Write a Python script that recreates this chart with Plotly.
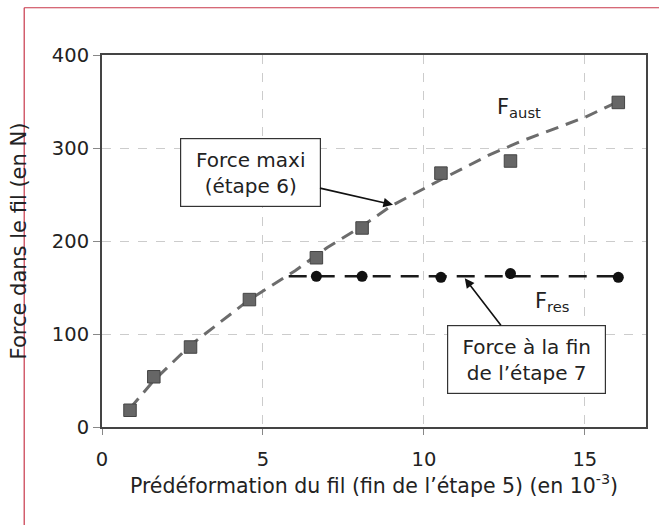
import plotly.graph_objects as go

# --- data ---
pre_def = [0.87, 1.61, 2.75, 4.58, 6.66, 8.08, 10.53, 12.69, 16.04]
f_aust = [18, 54, 86, 137, 182, 214, 273, 286, 349]

pre_def_res = [6.66, 8.08, 10.53, 12.69, 16.04]
f_res = [162, 162, 161, 165, 161]

# trend curves as drawn in the reference
aust_trend_x = [0.87, 1.61, 2.75, 4.58, 6.0, 7.0, 8.08, 9.0, 10.53, 12.0, 13.0, 14.0, 15.0, 16.04]
aust_trend_y = [20, 50, 88, 137, 168, 193, 216, 238, 266, 292, 307, 320, 333, 350]
res_trend_x = [5.8, 16.04]
res_trend_y = [162, 162]

x_ticks = [0, 5, 10, 15]
y_ticks = [0, 100, 200, 300, 400]

FONT = "DejaVu Sans, Verdana, sans-serif"
TXT = "#222222"

fig = go.Figure()
fig.add_trace(go.Scatter(x=aust_trend_x, y=aust_trend_y, mode="lines",
                         line=dict(color="#6c6c6c", width=3, dash="13px,8px"),
                         showlegend=False, hoverinfo="skip"))
fig.add_trace(go.Scatter(x=res_trend_x, y=res_trend_y, mode="lines",
                         line=dict(color="#1a1a1a", width=2.5, dash="18px,10px"),
                         showlegend=False, hoverinfo="skip"))
fig.add_trace(go.Scatter(x=pre_def, y=f_aust, mode="markers",
                         marker=dict(symbol="square", size=12.5, color="#666666",
                                     line=dict(color="#444444", width=1)),
                         showlegend=False))
fig.add_trace(go.Scatter(x=pre_def_res, y=f_res, mode="markers",
                         marker=dict(symbol="circle", size=11, color="#111111"),
                         showlegend=False))

ann = []
ann.append(dict(x=12.94, y=343, xref="x", yref="y", showarrow=False,
                text="F<sub>aust</sub>", font=dict(family=FONT, size=21, color=TXT)))
ann.append(dict(x=14.0, y=134, xref="x", yref="y", showarrow=False,
                text="F<sub>res</sub>", font=dict(family=FONT, size=21, color=TXT)))
# boxed labels with their arrows (box centred at ax/ay, arrow tip at x/y)
ann.append(dict(x=9.04, y=239, ax=4.60, ay=274, xref="x", yref="y", axref="x", ayref="y",
                showarrow=True, arrowhead=2, arrowsize=1.2, arrowwidth=1.6, arrowcolor="#111111",
                text="Force maxi<br>(étape 6)", font=dict(family=FONT, size=20, color=TXT),
                bordercolor="#333333", borderwidth=1.2, borderpad=0, bgcolor="white",
                width=139, height=67))
ann.append(dict(x=11.27, y=160, ax=13.2, ay=73, xref="x", yref="y", axref="x", ayref="y",
                showarrow=True, arrowhead=2, arrowsize=1.2, arrowwidth=1.6, arrowcolor="#111111",
                text="Force à la fin<br>de l’étape 7", font=dict(family=FONT, size=20, color=TXT),
                bordercolor="#333333", borderwidth=1.2, borderpad=0, bgcolor="white",
                width=157, height=67))

fig.update_layout(
    width=659, height=525,
    margin=dict(l=102, r=11, t=55, b=98),
    paper_bgcolor="white", plot_bgcolor="white",
    font=dict(family=FONT, size=20, color=TXT),
    annotations=ann,
    shapes=[
        dict(type="line", xref="paper", yref="paper", x0=-0.143, x1=1.1, y0=1.127, y1=1.127,
             line=dict(color="#c8374a", width=1.2)),
        dict(type="line", xref="paper", yref="paper", x0=-0.143, x1=-0.143, y0=-0.3, y1=1.127,
             line=dict(color="#c8374a", width=1.2)),
    ],
)
fig.update_xaxes(range=[0, 16.9], tickvals=x_ticks, ticks="outside", ticklen=6,
                 tickcolor="#888888", showgrid=True, gridcolor="#cccccc", griddash="dash",
                 showline=True, linecolor="#444444", linewidth=2, mirror=True,
                 zeroline=False, tickfont=dict(size=19.5), ticklabelstandoff=8,
                 title=dict(text="Prédéformation du fil (fin de l’étape 5) (en 10<sup>-3</sup>)",
                            font=dict(size=20.5), standoff=6))
fig.update_yaxes(range=[0, 400], tickvals=y_ticks, ticks="outside", ticklen=7,
                 tickcolor="#888888", showgrid=True, gridcolor="#cccccc", griddash="dash",
                 showline=True, linecolor="#444444", linewidth=2, mirror=True,
                 zeroline=False, tickfont=dict(size=19.5),
                 title=dict(text="Force dans le fil (en N)", font=dict(size=21), standoff=20))

fig.write_html("out.html")
